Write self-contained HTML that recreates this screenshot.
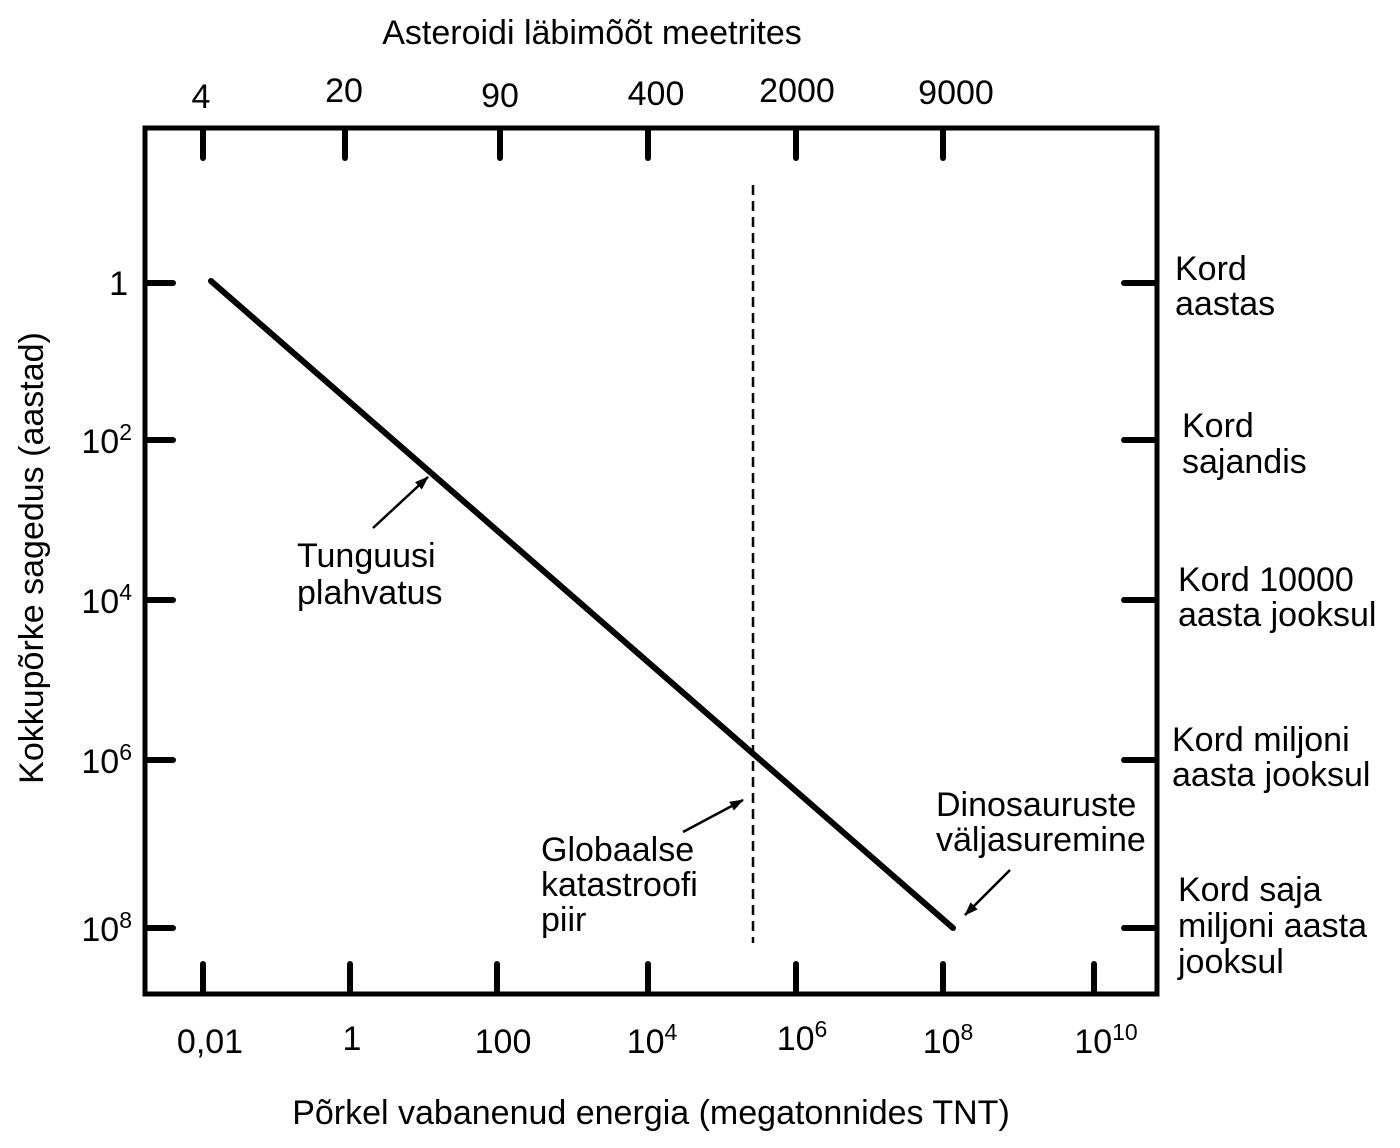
<!DOCTYPE html>
<html><head><meta charset="utf-8"><style>
html,body{margin:0;padding:0;background:#fff}
svg{display:block}
text{font-family:"Liberation Sans",Arial,sans-serif;fill:#000}
</style></head><body>
<svg width="1400" height="1148" viewBox="0 0 1400 1148" xmlns="http://www.w3.org/2000/svg">
<defs><marker id="ah" markerWidth="14" markerHeight="12" refX="13" refY="6" orient="auto" markerUnits="userSpaceOnUse"><path d="M0,1 L14,6 L0,11 z" fill="#000"/></marker></defs>
<rect x="145" y="128" width="1012" height="866" fill="none" stroke="#000" stroke-width="5"/>
<g stroke="#000" stroke-width="6" stroke-linecap="round">
<line x1="203" y1="130" x2="203" y2="158"/><line x1="345" y1="130" x2="345" y2="158"/><line x1="500" y1="130" x2="500" y2="158"/><line x1="648" y1="130" x2="648" y2="158"/><line x1="796" y1="130" x2="796" y2="158"/><line x1="943" y1="130" x2="943" y2="158"/>
<line x1="203" y1="964" x2="203" y2="992"/><line x1="350" y1="964" x2="350" y2="992"/><line x1="497" y1="964" x2="497" y2="992"/><line x1="648" y1="964" x2="648" y2="992"/><line x1="796" y1="964" x2="796" y2="992"/><line x1="943" y1="964" x2="943" y2="992"/><line x1="1094" y1="964" x2="1094" y2="992"/>
<line x1="147" y1="283" x2="173" y2="283"/><line x1="147" y1="440" x2="173" y2="440"/><line x1="147" y1="600" x2="173" y2="600"/><line x1="147" y1="760" x2="173" y2="760"/><line x1="147" y1="928" x2="173" y2="928"/>
<line x1="1124" y1="283" x2="1155" y2="283"/><line x1="1124" y1="440" x2="1155" y2="440"/><line x1="1124" y1="600" x2="1155" y2="600"/><line x1="1124" y1="760" x2="1155" y2="760"/><line x1="1124" y1="928" x2="1155" y2="928"/>
</g>
<line x1="211" y1="281" x2="953" y2="928" stroke="#000" stroke-width="6" stroke-linecap="round"/>
<line x1="753" y1="185" x2="753" y2="943" stroke="#000" stroke-width="2.5" stroke-dasharray="10,6"/>
<g stroke="#000" stroke-width="2.5">
<line x1="373" y1="528" x2="428" y2="477" marker-end="url(#ah)"/>
<line x1="683" y1="832" x2="743" y2="800" marker-end="url(#ah)"/>
<line x1="1010" y1="870" x2="965" y2="915" marker-end="url(#ah)"/>
</g>
<g font-size="34">
<text x="592" y="44" text-anchor="middle">Asteroidi läbimõõt meetrites</text>
<text x="201" y="108" text-anchor="middle">4</text>
<text x="344" y="102" text-anchor="middle">20</text>
<text x="500" y="107" text-anchor="middle">90</text>
<text x="656" y="105" text-anchor="middle">400</text>
<text x="797" y="102" text-anchor="middle">2000</text>
<text x="956" y="104" text-anchor="middle">9000</text>
<text x="210" y="1053" text-anchor="middle">0,01</text>
<text x="352" y="1050" text-anchor="middle">1</text>
<text x="503" y="1053" text-anchor="middle">100</text>
<text x="652" y="1053" text-anchor="middle">10<tspan font-size="23" dy="-13">4</tspan></text>
<text x="802" y="1050" text-anchor="middle">10<tspan font-size="23" dy="-13">6</tspan></text>
<text x="948" y="1053" text-anchor="middle">10<tspan font-size="23" dy="-13">8</tspan></text>
<text x="1106" y="1053" text-anchor="middle">10<tspan font-size="23" dy="-13">10</tspan></text>
<text x="651" y="1124" text-anchor="middle">Põrkel vabanenud energia (megatonnides TNT)</text>
<text x="128" y="295" text-anchor="end">1</text>
<text x="132" y="453" text-anchor="end">10<tspan font-size="23" dy="-13">2</tspan></text>
<text x="132" y="613" text-anchor="end">10<tspan font-size="23" dy="-13">4</tspan></text>
<text x="132" y="773" text-anchor="end">10<tspan font-size="23" dy="-13">6</tspan></text>
<text x="132" y="941" text-anchor="end">10<tspan font-size="23" dy="-13">8</tspan></text>
<text transform="translate(43,558) rotate(-90)" text-anchor="middle">Kokkupõrke sagedus (aastad)</text>
<text x="1175" y="280">Kord</text><text x="1175" y="315">aastas</text>
<text x="1182" y="437">Kord</text><text x="1182" y="473">sajandis</text>
<text x="1178" y="591">Kord 10000</text><text x="1178" y="626">aasta jooksul</text>
<text x="1172" y="751">Kord miljoni</text><text x="1172" y="786">aasta jooksul</text>
<text x="1178" y="901">Kord saja</text><text x="1178" y="937">miljoni aasta</text><text x="1178" y="973">jooksul</text>
<text x="297" y="567">Tunguusi</text><text x="297" y="604">plahvatus</text>
<text x="541" y="861">Globaalse</text><text x="541" y="896">katastroofi</text><text x="541" y="931">piir</text>
<text x="936" y="816">Dinosauruste</text><text x="936" y="851">väljasuremine</text>
</g>
</svg>
</body></html>
